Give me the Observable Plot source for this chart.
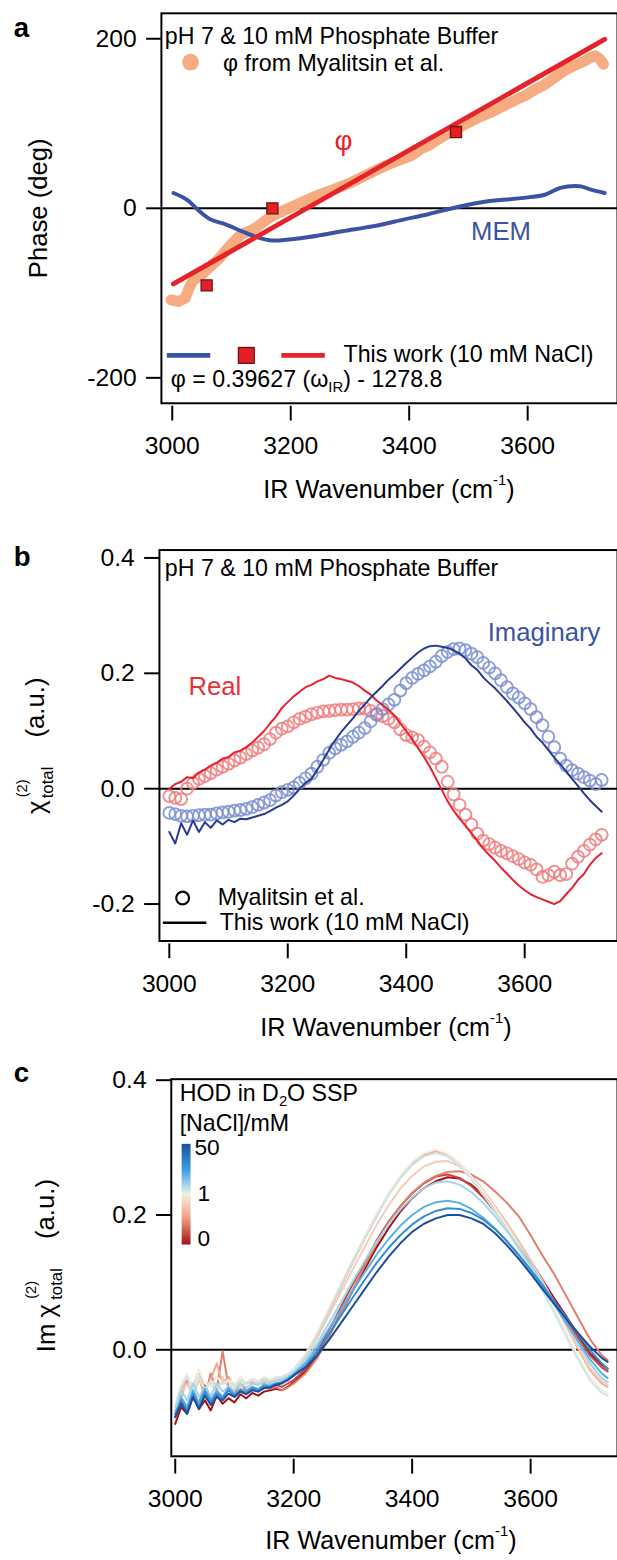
<!DOCTYPE html>
<html><head><meta charset="utf-8">
<script src="https://cdn.jsdelivr.net/npm/d3@7"></script>
<script src="https://cdn.jsdelivr.net/npm/@observablehq/plot@0.6"></script>
<style>
html,body{margin:0;padding:0;background:#fff;overflow:hidden;}
#wrap{position:relative;width:617px;height:1560px;overflow:hidden;background:#fff;}
.panel{position:absolute;left:0;}
</style></head>
<body><div id="wrap"><div class="panel" id="pa" style="top:0px"></div><div class="panel" id="pb" style="top:515px"></div><div class="panel" id="pc" style="top:1055px"></div></div>
<script>
const FONT = '"Liberation Sans", Arial, Helvetica, sans-serif';

// ---------- Panel a data ----------
const phaseMyWn  = [2998,3010,3022,3028,3035,3050,3064,3078,3090,3103,3116,3130,3143,3156,3169,3190,3209,3228,3248,3275,3301,3327,3353,3380,3406,3420,3432,3455,3478,3497,3517,3540,3563,3580,3596,3612,3629,3645,3661,3678,3694,3704,3714,3722,3728];
const phaseMyDeg = [-108,-110,-106,-95,-85,-78,-69,-60,-50,-40,-31,-27,-22,-15,-9,-2,4,10,16,23,30,39,48,56,63,70,74,84,93,100,107,114,122,128,133,140,146,154,162,168,173,177,180,176,170];
const memWn  = [3002,3025,3045,3064,3090,3117,3143,3169,3209,3248,3287,3340,3392,3432,3478,3530,3589,3629,3655,3688,3707,3730];
const memDeg = [18,10,-3,-13,-19,-27,-34,-38,-36,-32,-27,-21,-13,-7,1,8,12,16,24,26,22,18];
const fitWn  = [3002,3730];
const fitDeg = [-89.2,199.3];
const sqWn   = [3058,3169,3479];
const sqDeg  = [-91,0,90];
const xTicks = [3000,3200,3400,3600];
const yTicksA = [-200,0,200];

// ---------- Panel b data ----------
const wnB = [3000,3010,3020,3030,3040,3050,3060,3070,3080,3090,3100,3110,3120,3130,3140,3150,3160,3170,3180,3190,3200,3210,3220,3230,3240,3250,3260,3270,3280,3290,3300,3310,3320,3330,3340,3350,3360,3370,3380,3390,3400,3410,3420,3430,3440,3450,3460,3470,3480,3490,3500,3510,3520,3530,3540,3550,3560,3570,3580,3590,3600,3610,3620,3630,3640,3650,3660,3670,3680,3690,3700,3710,3720,3730];
const realMy = [-0.013,-0.016,-0.018,0.0,0.01,0.017,0.022,0.027,0.033,0.038,
 0.043,0.049,0.054,0.06,0.066,0.071,0.077,0.086,0.097,0.104,
 0.108,0.115,0.121,0.125,0.129,0.132,0.134,0.135,0.136,0.137,
 0.137,0.138,0.139,0.139,0.135,0.13,0.126,0.121,0.115,0.103,
 0.093,0.089,0.084,0.073,0.063,0.052,0.038,0.012,-0.01,-0.028,
 -0.045,-0.062,-0.078,-0.09,-0.096,-0.102,-0.108,-0.112,-0.117,-0.122,
 -0.128,-0.132,-0.14,-0.153,-0.15,-0.144,-0.15,-0.148,-0.13,-0.118,
 -0.108,-0.097,-0.088,-0.08];
const realNaCl = [0.0,0.008,0.012,0.02,0.018,0.028,0.033,0.04,0.045,0.052,
 0.055,0.063,0.066,0.072,0.08,0.09,0.1,0.113,0.125,0.14,
 0.15,0.16,0.168,0.176,0.18,0.186,0.19,0.196,0.192,0.19,
 0.187,0.184,0.178,0.17,0.163,0.153,0.145,0.137,0.127,0.113,
 0.1,0.086,0.07,0.055,0.038,0.018,-0.002,-0.022,-0.038,-0.052,
 -0.064,-0.077,-0.09,-0.104,-0.115,-0.125,-0.137,-0.147,-0.158,-0.168,
 -0.176,-0.183,-0.188,-0.192,-0.196,-0.2,-0.195,-0.183,-0.172,-0.158,
 -0.148,-0.132,-0.12,-0.112];
const imagMy = [-0.042,-0.044,-0.047,-0.048,-0.047,-0.046,-0.045,-0.045,-0.043,-0.041,
 -0.04,-0.038,-0.037,-0.035,-0.032,-0.028,-0.024,-0.02,-0.012,-0.006,
 -0.002,0.002,0.01,0.018,0.026,0.038,0.05,0.062,0.07,0.076,
 0.082,0.09,0.097,0.105,0.117,0.128,0.138,0.146,0.154,0.17,
 0.183,0.192,0.199,0.205,0.212,0.22,0.23,0.237,0.242,0.243,
 0.24,0.234,0.228,0.218,0.21,0.2,0.188,0.176,0.165,0.158,
 0.148,0.138,0.124,0.11,0.09,0.072,0.052,0.04,0.032,0.026,
 0.02,0.014,0.008,0.015];
const imagNaCl = [-0.075,-0.095,-0.06,-0.08,-0.055,-0.075,-0.058,-0.068,-0.055,-0.062,
 -0.054,-0.058,-0.052,-0.053,-0.05,-0.047,-0.044,-0.039,-0.033,-0.028,
 -0.022,-0.012,0.0,0.01,0.017,0.033,0.05,0.068,0.084,0.098,
 0.11,0.122,0.135,0.146,0.158,0.168,0.178,0.189,0.198,0.208,
 0.218,0.227,0.236,0.243,0.247,0.248,0.246,0.244,0.24,0.234,
 0.226,0.214,0.206,0.193,0.183,0.174,0.163,0.152,0.14,0.128,
 0.115,0.104,0.09,0.08,0.067,0.054,0.042,0.03,0.017,0.005,
 -0.008,-0.02,-0.03,-0.04];
const yTicksB = [-0.2,0,0.2,0.4];

// ---------- Panel c data ----------
const wnC = [3000,3010,3020,3030,3040,3050,3060,3070,3080,3090,3100,3110,3120,3130,3140,3150,3160,3170,3180,3190,3200,
 3220,3240,3260,3280,3300,3320,3340,3360,3380,3400,3420,3440,3460,3480,3500,3520,3540,3560,3580,3600,3620,3640,3660,3680,3700,3720,3730];
const naclConc = [0,0.2,0.4,0.6,0.8,1,5,10,20,30,50];
const im_0   = [-0.11,-0.085,-0.095,-0.07,-0.088,-0.075,-0.09,-0.068,-0.08,-0.072,-0.078,-0.066,-0.072,-0.064,-0.068,-0.062,-0.06,-0.058,-0.06,-0.055,-0.048,
 -0.032,-0.008,0.022,0.055,0.088,0.12,0.152,0.18,0.205,0.225,0.24,0.25,0.256,0.254,0.245,0.23,0.21,0.187,0.16,0.132,0.104,0.076,0.05,0.022,-0.005,-0.022,-0.028];
const im_0_2 = [-0.1,-0.078,-0.09,-0.06,-0.08,-0.05,-0.075,-0.062,-0.07,-0.058,-0.07,-0.06,-0.064,-0.058,-0.06,-0.055,-0.058,-0.052,-0.055,-0.05,-0.045,
 -0.028,-0.002,0.03,0.064,0.098,0.13,0.162,0.19,0.213,0.232,0.247,0.257,0.26,0.255,0.243,0.226,0.205,0.182,0.156,0.128,0.1,0.072,0.045,0.018,-0.008,-0.026,-0.032];
const im_0_4 = [-0.095,-0.07,-0.045,-0.065,-0.04,-0.07,-0.035,-0.06,-0.002,-0.055,-0.065,-0.05,-0.06,-0.055,-0.062,-0.05,-0.058,-0.055,-0.06,-0.056,-0.05,
 -0.035,-0.012,0.02,0.055,0.09,0.125,0.158,0.188,0.213,0.233,0.248,0.258,0.264,0.265,0.26,0.25,0.235,0.218,0.198,0.17,0.14,0.112,0.08,0.048,0.016,-0.008,-0.015];
const im_0_6 = [-0.085,-0.06,-0.04,-0.055,-0.03,-0.06,-0.045,-0.02,-0.05,-0.04,-0.055,-0.045,-0.05,-0.048,-0.052,-0.045,-0.048,-0.045,-0.044,-0.04,-0.032,
 -0.01,0.022,0.058,0.094,0.13,0.165,0.198,0.23,0.256,0.276,0.289,0.295,0.29,0.277,0.258,0.237,0.213,0.188,0.161,0.132,0.102,0.07,0.036,0.002,-0.03,-0.05,-0.055];
const im_0_8 = [-0.09,-0.065,-0.05,-0.07,-0.045,-0.06,-0.05,-0.062,-0.04,-0.058,-0.05,-0.055,-0.048,-0.052,-0.05,-0.046,-0.05,-0.045,-0.042,-0.04,-0.033,
 -0.012,0.018,0.052,0.086,0.12,0.153,0.185,0.214,0.239,0.258,0.272,0.279,0.28,0.272,0.256,0.236,0.212,0.187,0.16,0.132,0.102,0.07,0.037,0.004,-0.027,-0.047,-0.052];
const im_1   = [-0.08,-0.05,-0.035,-0.06,-0.03,-0.05,-0.055,-0.04,-0.05,-0.045,-0.05,-0.04,-0.048,-0.042,-0.046,-0.04,-0.044,-0.04,-0.04,-0.036,-0.028,
 -0.006,0.026,0.062,0.098,0.134,0.169,0.202,0.233,0.259,0.279,0.292,0.297,0.291,0.277,0.257,0.235,0.21,0.183,0.155,0.124,0.093,0.06,0.026,-0.008,-0.04,-0.06,-0.065];
const im_5   = [-0.085,-0.055,-0.04,-0.065,-0.04,-0.06,-0.045,-0.055,-0.05,-0.048,-0.055,-0.045,-0.05,-0.044,-0.048,-0.042,-0.046,-0.042,-0.04,-0.036,-0.03,
 -0.008,0.024,0.06,0.096,0.132,0.166,0.199,0.229,0.254,0.274,0.287,0.292,0.287,0.273,0.253,0.23,0.205,0.178,0.15,0.119,0.088,0.055,0.02,-0.014,-0.045,-0.064,-0.068];
const im_10  = [-0.09,-0.06,-0.075,-0.05,-0.07,-0.055,-0.068,-0.05,-0.062,-0.055,-0.06,-0.05,-0.056,-0.05,-0.052,-0.048,-0.05,-0.046,-0.044,-0.04,-0.034,
 -0.016,0.01,0.04,0.071,0.102,0.132,0.16,0.186,0.208,0.226,0.24,0.248,0.25,0.245,0.234,0.218,0.198,0.176,0.152,0.126,0.099,0.07,0.04,0.01,-0.02,-0.042,-0.048];
const im_20  = [-0.1,-0.07,-0.085,-0.06,-0.08,-0.058,-0.074,-0.06,-0.07,-0.056,-0.066,-0.058,-0.062,-0.055,-0.058,-0.052,-0.053,-0.05,-0.048,-0.043,-0.036,
 -0.02,0.004,0.032,0.06,0.088,0.115,0.141,0.164,0.184,0.2,0.212,0.219,0.221,0.218,0.209,0.196,0.18,0.161,0.14,0.117,0.093,0.067,0.04,0.013,-0.014,-0.035,-0.042];
const im_30  = [-0.095,-0.075,-0.09,-0.065,-0.085,-0.062,-0.078,-0.065,-0.072,-0.06,-0.068,-0.06,-0.064,-0.057,-0.06,-0.054,-0.055,-0.05,-0.048,-0.044,-0.038,
 -0.024,-0.002,0.024,0.051,0.078,0.104,0.129,0.151,0.17,0.186,0.198,0.206,0.21,0.209,0.203,0.193,0.179,0.161,0.141,0.119,0.096,0.072,0.048,0.024,0.0,-0.02,-0.028];
const im_50  = [-0.1,-0.08,-0.095,-0.07,-0.088,-0.068,-0.082,-0.07,-0.075,-0.065,-0.07,-0.062,-0.066,-0.06,-0.062,-0.057,-0.056,-0.052,-0.05,-0.045,-0.038,
 -0.026,-0.008,0.015,0.04,0.065,0.09,0.115,0.138,0.158,0.175,0.187,0.195,0.2,0.2,0.195,0.187,0.173,0.155,0.135,0.113,0.09,0.068,0.046,0.025,0.005,-0.012,-0.018];
const imSeriesC = [im_0, im_0_2, im_0_4, im_0_6, im_0_8, im_1, im_5, im_10, im_20, im_30, im_50];
const yTicksC = [0,0.2,0.4];
const cbarTicks = [0,1,50];

// ---------- helpers ----------
const pairs = (xs, ys) => xs.map((x, i) => ({x, y: ys[i]}));
const fmt1 = d => d.toFixed(1);

function addText(svg, x, y, parts, o = {}) {
  const t = d3.select(svg).append("text")
    .attr("font-family", FONT).attr("font-size", o.size || 23.5)
    .attr("fill", o.fill || "#000").attr("text-anchor", o.anchor || "start")
    .attr("font-weight", o.weight || "normal");
  if (o.rotate) t.attr("transform", `translate(${x},${y}) rotate(${o.rotate})`);
  else t.attr("x", x).attr("y", y);
  for (const p of (typeof parts === "string" ? [{t: parts}] : parts)) {
    const s = t.append("tspan").text(p.t);
    if (p.size) s.attr("font-size", p.size);
    if (p.dy) s.attr("dy", p.dy);
  }
  return t;
}
function xTitle(svg, cx, y) {
  addText(svg, cx, y, [{t: "IR Wavenumber (cm"}, {t: "-1", size: 15, dy: -13}, {t: ")", dy: 13}], {size: 25.5, anchor: "middle"});
}

function basePlot(o) {
  return Plot.plot({
    width: 625, height: o.height,
    marginLeft: o.ml, marginRight: 0, marginTop: o.mt, marginBottom: o.mb,
    style: {fontFamily: FONT, fontSize: "25px", color: "#000", background: "#fff"},
    x: {domain: o.xd, label: null},
    y: {domain: o.yd, label: null},
    color: o.color,
    marks: [
      Plot.ruleY([0], {stroke: "#000", strokeWidth: 2}),
      ...o.marks,
      Plot.frame({stroke: "#000", strokeWidth: 2}),
      Plot.axisX({ticks: xTicks, tickSize: 15, tickPadding: 16, dy: 3, tickFormat: d => String(d), fontSize: 25, strokeWidth: 2, label: null}),
      Plot.axisY({ticks: o.yTicks, tickSize: 15, tickPadding: 10, tickFormat: o.yFormat, fontSize: 25, strokeWidth: 2, label: null})
    ]
  });
}

// ---------- Panel a ----------
const ORANGE = "#f6ab81", MEMBLUE = "#3a53a4", FITRED = "#e62328";
const plotA = basePlot({
  height: 515, ml: 163, mt: 13, mb: 107,
  xd: [2981.67, 3751.67], yd: [-230, 230], yTicks: yTicksA, yFormat: d => String(d),
  marks: [
    Plot.line(pairs(phaseMyWn, phaseMyDeg), {x: "x", y: "y", stroke: ORANGE, strokeWidth: 11, strokeLinecap: "round", strokeLinejoin: "round"}),
    Plot.line(pairs(memWn, memDeg), {x: "x", y: "y", stroke: MEMBLUE, strokeWidth: 4, curve: "catmull-rom"}),
    Plot.line(pairs(fitWn, fitDeg), {x: "x", y: "y", stroke: FITRED, strokeWidth: 5}),
    Plot.dot(pairs(sqWn, sqDeg), {x: "x", y: "y", symbol: "square", r: 6.3, fill: "#e61e25", stroke: "#6b1010", strokeWidth: 1.3})
  ]
});
document.getElementById("pa").appendChild(plotA);
{
  const s = plotA;
  addText(s, 14, 37, "a", {size: 28, weight: "bold"});
  addText(s, 167, 45, "pH 7 & 10 mM Phosphate Buffer");
  d3.select(s).append("circle").attr("cx", 193).attr("cy", 63).attr("r", 8.5).attr("fill", ORANGE);
  addText(s, 226, 72, "φ from Myalitsin et al.");
  addText(s, 348, 152, "φ", {size: 28, anchor: "middle", fill: FITRED});
  addText(s, 507.5, 243, "MEM", {size: 26, anchor: "middle", fill: MEMBLUE});
  const g = d3.select(s).append("g");
  g.append("line").attr("x1", 169).attr("x2", 213).attr("y1", 360).attr("y2", 360).attr("stroke", MEMBLUE).attr("stroke-width", 5);
  g.append("rect").attr("x", 241.5).attr("y", 352).attr("width", 16).attr("height", 16).attr("fill", "#e61e25").attr("stroke", "#6b1010").attr("stroke-width", 1.3);
  g.append("line").attr("x1", 285).attr("x2", 329).attr("y1", 360).attr("y2", 360).attr("stroke", FITRED).attr("stroke-width", 5);
  addText(s, 348, 367, "This work (10 mM NaCl)");
  addText(s, 173, 392, [{t: "φ = 0.39627 (ω"}, {t: "IR", size: 15, dy: 5}, {t: ") - 1278.8", dy: -5}]);
  addText(s, 48, 211, "Phase (deg)", {size: 26, anchor: "middle", rotate: -90});
  xTitle(s, 394, 504);
}

// ---------- Panel b ----------
const REDLINE = "#e8202a", REDCIRC = "#ef7e7e", BLUELINE = "#283a90", BLUECIRC = "#7b8fcf";
const plotB = basePlot({
  height: 540, ml: 161, mt: 35, mb: 109,
  xd: [2983.33, 3756.67], yd: [-0.264, 0.4137], yTicks: yTicksB, yFormat: fmt1,
  marks: [
    Plot.dot(pairs(wnB, realMy), {x: "x", y: "y", r: 6, stroke: REDCIRC, strokeWidth: 2, strokeOpacity: 0.85, fill: "none"}),
    Plot.dot(pairs(wnB, imagMy), {x: "x", y: "y", r: 6, stroke: BLUECIRC, strokeWidth: 2, strokeOpacity: 0.85, fill: "none"}),
    Plot.line(pairs(wnB, realNaCl), {x: "x", y: "y", stroke: REDLINE, strokeWidth: 2}),
    Plot.line(pairs(wnB, imagNaCl), {x: "x", y: "y", stroke: BLUELINE, strokeWidth: 2})
  ]
});
document.getElementById("pb").appendChild(plotB);
{
  const s = plotB;
  addText(s, 14, 52, "b", {size: 28, weight: "bold"});
  addText(s, 167, 62, "pH 7 & 10 mM Phosphate Buffer");
  addText(s, 191, 182, "Real", {size: 26, fill: "#e8303a"});
  addText(s, 494, 128, "Imaginary", {size: 26, fill: MEMBLUE});
  d3.select(s).append("circle").attr("cx", 185).attr("cy", 388).attr("r", 6.5).attr("fill", "none").attr("stroke", "#000").attr("stroke-width", 2.2);
  addText(s, 220.5, 395, "Myalitsin et al.");
  d3.select(s).append("line").attr("x1", 165).attr("x2", 209).attr("y1", 413).attr("y2", 413).attr("stroke", "#000").attr("stroke-width", 2.5);
  addText(s, 222.5, 420, "This work (10 mM NaCl)");
  addText(s, 46, 303, "χ", {size: 26, rotate: -90});
  addText(s, 27, 286, "(2)", {size: 15, rotate: -90});
  addText(s, 54, 287, "total", {size: 17, rotate: -90});
  addText(s, 45, 195, "(a.u.)", {size: 26, anchor: "middle", rotate: -90});
  xTitle(s, 391, 528);
}

// ---------- Panel c ----------
const colorOpts = {type: "linear", domain: [0, 0.5, 1, 10, 25, 50],
  range: ["#a50f15", "#f09a7a", "#f4efe2", "#9fd6ec", "#3b9de0", "#1a4e9e"], interpolate: "rgb"};
const colorC = Plot.scale({color: colorOpts});
const dataC = naclConc.flatMap((c, k) => wnC.map((w, i) => ({c, x: w, y: imSeriesC[k][i]})));
const plotC = basePlot({
  height: 505, ml: 173, mt: 24, mb: 99,
  xd: [2993.33, 3746.67], yd: [-0.158, 0.4015], yTicks: yTicksC, yFormat: fmt1,
  color: colorOpts,
  marks: [
    Plot.line(dataC, {x: "x", y: "y", z: "c", stroke: "c", strokeWidth: 2})
  ]
});
document.getElementById("pc").appendChild(plotC);
{
  const s = plotC;
  addText(s, 14, 27, "c", {size: 28, weight: "bold"});
  addText(s, 182, 47, [{t: "HOD in D"}, {t: "2", size: 15, dy: 5}, {t: "O SSP", dy: -5}]);
  addText(s, 182, 77, "[NaCl]/mM");
  const pos2val = t => t <= 0.5 ? t * 2 * cbarTicks[1] : cbarTicks[1] + (t - 0.5) * 2 * (cbarTicks[2] - cbarTicks[1]);
  const defs = d3.select(s).append("defs");
  const grad = defs.append("linearGradient").attr("id", "cbar").attr("x1", 0).attr("y1", 1).attr("x2", 0).attr("y2", 0);
  d3.range(0, 1.0001, 0.02).forEach(t => grad.append("stop").attr("offset", t).attr("stop-color", colorC.apply(pos2val(t))));
  d3.select(s).append("rect").attr("x", 184).attr("y", 90).attr("width", 9).attr("height", 102).attr("fill", "url(#cbar)");
  addText(s, 197, 101, String(cbarTicks[2]), {size: 23});
  addText(s, 200, 148, String(cbarTicks[1]), {size: 23});
  addText(s, 200, 193, String(cbarTicks[0]), {size: 23});
  addText(s, 56, 301, "Im", {size: 26, rotate: -90});
  addText(s, 56, 266, "χ", {size: 26, rotate: -90});
  addText(s, 36, 247, "(2)", {size: 15, rotate: -90});
  addText(s, 63, 248, "total", {size: 17, rotate: -90});
  addText(s, 55, 156, "(a.u.)", {size: 26, anchor: "middle", rotate: -90});
  xTitle(s, 396, 500);
}
</script></body></html>
